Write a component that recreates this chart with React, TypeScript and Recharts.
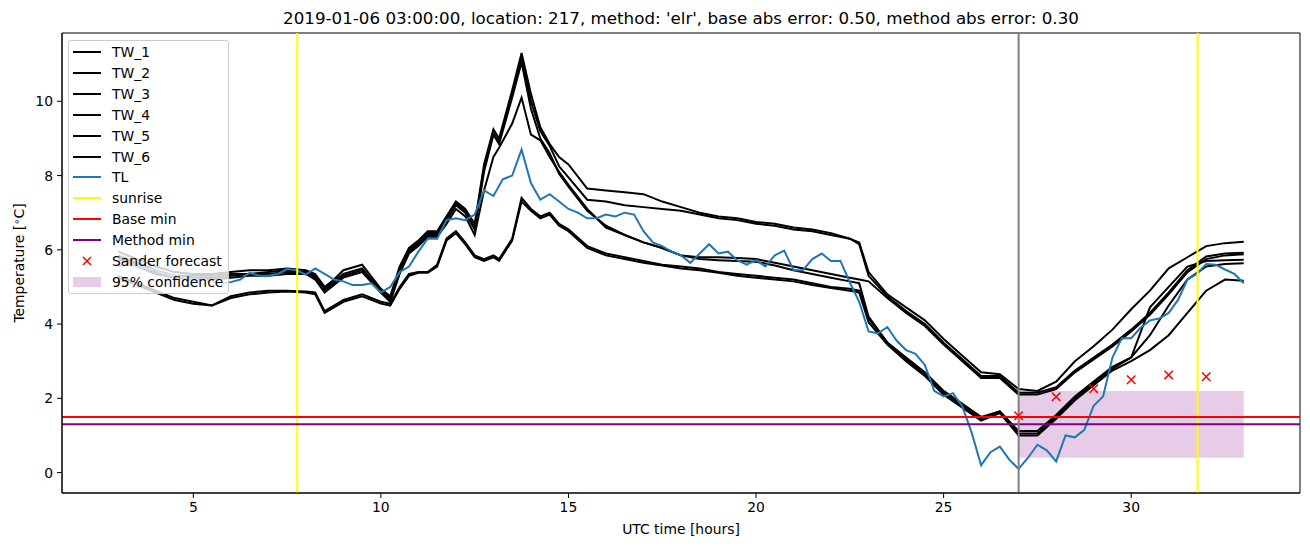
import React from 'react';
import { ComposedChart, Line, Scatter, XAxis, YAxis, ReferenceLine, ReferenceArea } from 'recharts';

const FONT = "'DejaVu Sans', sans-serif";
const LW = 2;

const twHours = [3, 3.5, 4, 4.5, 5, 5.5, 6, 6.5, 7, 7.5,
  8, 8.25, 8.5, 8.75, 9, 9.5, 10, 10.25, 10.5, 10.75,
  11, 11.25, 11.5, 11.75, 12, 12.25, 12.5, 12.75, 13, 13.15,
  13.5, 13.75, 14, 14.25, 14.5, 14.75, 15, 15.5, 16, 16.5,
  17, 17.5, 18, 18.5, 19, 19.5, 20, 20.5, 21, 21.5,
  22, 22.5, 22.75, 23, 23.5, 24, 24.5, 25, 25.5, 26,
  26.5, 27, 27.5, 28, 28.5, 29, 29.5, 30, 30.5, 31,
  31.5, 32, 32.5, 33];

const tw1 = [5.95, 5.75, 5.55, 5.4, 5.35, 5.35, 5.4, 5.45, 5.45, 5.5,
  5.45, 5.35, 5.0, 5.2, 5.45, 5.6, 4.95, 4.75, 5.55, 6.05,
  6.25, 6.5, 6.5, 6.9, 7.3, 7.1, 6.7, 8.3, 9.25, 9.0,
  10.3, 11.3, 10.2, 9.3, 8.85, 8.5, 8.3, 7.65, 7.6, 7.55,
  7.5, 7.3, 7.15, 7.0, 6.9, 6.85, 6.75, 6.7, 6.6, 6.55,
  6.45, 6.3, 6.2, 5.4, 4.8, 4.45, 4.1, 3.6, 3.15, 2.7,
  2.65, 2.25, 2.2, 2.45, 3.0, 3.4, 3.85, 4.4, 4.9, 5.5,
  5.8, 6.1, 6.18, 6.22];

const tw2 = [5.85, 5.65, 5.45, 5.3, 5.3, 5.3, 5.35, 5.35, 5.4, 5.45,
  5.4, 5.3, 4.95, 5.15, 5.35, 5.5, 4.9, 4.7, 5.5, 6.0,
  6.2, 6.45, 6.45, 6.85, 7.25, 7.05, 6.6, 8.2, 9.15, 8.9,
  10.2, 11.2, 10.0, 9.2, 8.8, 8.25, 7.95, 7.35, 7.3, 7.2,
  7.15, 7.1, 7.05, 6.95, 6.85, 6.8, 6.7, 6.65, 6.55, 6.5,
  6.4, 6.3, 6.15, 5.3, 4.75, 4.35, 4.0, 3.5, 3.05, 2.6,
  2.6, 2.15, 2.15, 2.3, 2.75, 3.1, 3.45, 3.85, 4.3, 4.85,
  5.45, 5.82, 5.9, 5.92];

const tw3 = [5.8, 5.6, 5.4, 5.3, 5.25, 5.25, 5.3, 5.35, 5.35, 5.4,
  5.4, 5.25, 4.9, 5.1, 5.3, 5.45, 4.85, 4.65, 5.45, 5.95,
  6.15, 6.4, 6.4, 6.8, 7.2, 7.0, 6.55, 8.1, 9.1, 8.85,
  10.1, 11.05, 9.8, 9.0, 8.6, 8.05, 7.7, 7.05, 6.65, 6.4,
  6.2, 6.05, 5.85, 5.8, 5.8, 5.78, 5.75, 5.65, 5.55, 5.45,
  5.35, 5.25, 5.2, 5.15, 4.7, 4.3, 3.95, 3.45, 3.0, 2.55,
  2.55, 2.1, 2.1, 2.25, 2.7, 3.05, 3.4, 3.8, 4.25, 4.8,
  5.4, 5.75, 5.85, 5.88];

const tw4 = [5.75, 5.55, 5.35, 5.25, 5.2, 5.2, 5.25, 5.3, 5.3, 5.35,
  5.35, 5.2, 4.85, 5.05, 5.25, 5.4, 4.85, 4.6, 5.35, 5.9,
  6.1, 6.35, 6.35, 6.7, 7.1, 6.9, 6.4, 7.6, 8.5, 8.75,
  9.4, 10.1, 9.1, 8.95, 8.5, 8.1, 7.75, 7.1, 6.6, 6.4,
  6.2, 6.05, 5.85, 5.75, 5.72, 5.7, 5.68, 5.58, 5.45, 5.35,
  5.25, 5.15, 5.1, 4.2, 3.5, 3.1, 2.7, 2.2, 1.85, 1.5,
  1.65, 1.12, 1.12, 1.55, 2.05, 2.45, 2.85, 3.1, 4.45, 5.0,
  5.55, 5.7, 5.72, 5.73];

const tw5 = [5.3, 5.1, 4.9, 4.7, 4.6, 4.5, 4.75, 4.85, 4.9, 4.9,
  4.88, 4.85, 4.35, 4.5, 4.65, 4.8, 4.6, 4.55, 5.0, 5.35,
  5.4, 5.4, 5.6, 6.3, 6.5, 6.2, 5.85, 5.75, 5.85, 5.75,
  6.3, 7.4, 7.1, 6.9, 7.0, 6.7, 6.55, 6.1, 5.9, 5.8,
  5.7, 5.6, 5.55, 5.5, 5.4, 5.35, 5.3, 5.25, 5.2, 5.1,
  5.0, 4.95, 4.9, 4.15, 3.5, 3.05, 2.65, 2.15, 1.8, 1.45,
  1.65, 1.05, 1.05, 1.5, 2.0, 2.4, 2.8, 3.1, 3.7, 4.5,
  5.2, 5.55, 5.62, 5.64];

const tw6 = [5.25, 5.05, 4.85, 4.65, 4.55, 4.5, 4.7, 4.8, 4.85, 4.88,
  4.85, 4.8, 4.3, 4.45, 4.6, 4.75, 4.55, 4.5, 4.95, 5.3,
  5.38, 5.38, 5.55, 6.25, 6.45, 6.15, 5.8, 5.7, 5.8, 5.7,
  6.25, 7.3, 7.05, 6.85, 6.95, 6.65, 6.5, 6.05, 5.85, 5.75,
  5.65, 5.58, 5.5, 5.45, 5.38, 5.3, 5.25, 5.2, 5.15, 5.05,
  4.97, 4.9, 4.85, 4.05, 3.45, 3.0, 2.6, 2.1, 1.75, 1.4,
  1.6, 1.0, 1.0, 1.45, 1.95, 2.35, 2.75, 3.0, 3.3, 3.7,
  4.3, 4.9, 5.2, 5.17];

const tlHours = [3, 3.25, 3.5, 3.75, 4, 4.25, 4.5, 4.75,
  5, 5.25, 5.5, 5.75, 6, 6.25, 6.5, 6.75,
  7, 7.25, 7.5, 7.75, 8, 8.25, 8.5, 8.75,
  9, 9.25, 9.5, 9.75, 10, 10.25, 10.5, 10.75,
  11, 11.25, 11.5, 11.75, 12, 12.25, 12.5, 12.75,
  13, 13.25, 13.5, 13.75, 14, 14.25, 14.5, 14.75,
  15, 15.25, 15.5, 15.75, 16, 16.25, 16.5, 16.75,
  17, 17.25, 17.5, 17.75, 18, 18.25, 18.5, 18.75,
  19, 19.25, 19.5, 19.75, 20, 20.25, 20.5, 20.75,
  21, 21.25, 21.5, 21.75, 22, 22.25, 22.5, 22.75,
  23, 23.25, 23.5, 23.75, 24, 24.25, 24.5, 24.75,
  25, 25.25, 25.5, 25.75, 26, 26.25, 26.5, 26.75,
  27, 27.25, 27.5, 27.75, 28, 28.25, 28.5, 28.75,
  29, 29.25, 29.5, 29.75, 30, 30.25, 30.5, 30.75,
  31, 31.25, 31.5, 31.75, 32, 32.25, 32.5, 32.75,
  33];

const tl = [5.55, 5.6, 5.55, 5.5, 5.45, 5.35, 5.3, 5.25,
  5.2, 5.2, 5.15, 5.1, 5.13, 5.2, 5.38, 5.3,
  5.3, 5.35, 5.48, 5.45, 5.33, 5.5, 5.35, 5.2,
  5.15, 5.05, 5.05, 5.1, 4.85, 5.0, 5.4, 5.55,
  5.95, 6.3, 6.3, 6.8, 6.85, 6.8, 6.95, 7.6,
  7.45, 7.9, 8.0, 8.7, 7.8, 7.35, 7.5, 7.3,
  7.1, 7.0, 6.85, 6.85, 6.95, 6.9, 7.0, 6.95,
  6.5, 6.2, 6.1, 5.95, 5.85, 5.65, 5.9, 6.15,
  5.9, 5.95, 5.72, 5.6, 5.72, 5.55, 5.85, 5.98,
  5.45, 5.45, 5.75, 5.9, 5.7, 5.7, 5.12, 4.6,
  3.8, 3.75, 3.92, 3.55, 3.3, 3.2, 2.9, 2.2,
  2.05, 2.14, 1.78, 1.07, 0.2, 0.55, 0.7, 0.35,
  0.1, 0.4, 0.75, 0.6, 0.3, 1.0, 0.95, 1.15,
  1.8, 2.05, 3.1, 3.62, 3.62, 3.9, 4.1, 4.15,
  4.3, 4.65, 5.2, 5.35, 5.62, 5.6, 5.47, 5.35,
  5.1];

const sanderHours = [27, 28, 29, 30, 31, 32];
const sanderValues = [1.53, 2.04, 2.26, 2.5, 2.63, 2.58];

const sunriseHours = [7.77, 31.77];
const forecastHour = 27;
const baseMin = 1.5;
const methodMin = 1.3;
const confStart = 27;
const confEnd = 33;
const confLow = 0.4;
const confHigh = 2.2;

const xDomain = [1.5, 34.5];
const yDomain = [-0.55, 11.84];
const xTicks = [5, 10, 15, 20, 25, 30];
const yTicks = [0, 2, 4, 6, 8, 10];

const twKeys = ['TW_1', 'TW_2', 'TW_3', 'TW_4', 'TW_5', 'TW_6'];
const twSeries = [tw1, tw2, tw3, tw4, tw5, tw6];

const TITLE = "2019-01-06 03:00:00, location: 217, method: 'elr', base abs error: 0.50, method abs error: 0.30";

const XMark = (props: any) => {
  const { cx, cy } = props;
  if (cx == null || cy == null) return <g />;
  const r = 4.2;
  return (
    <path
      d={`M${cx - r},${cy - r}L${cx + r},${cy + r}M${cx - r},${cy + r}L${cx + r},${cy - r}`}
      stroke="#ff0000"
      strokeWidth={1.5}
      fill="none"
    />
  );
};

type LegendItem = { label: string; kind: 'line' | 'x' | 'patch'; color: string };
const legendItems: LegendItem[] = [
  ...twKeys.map((k) => ({ label: k, kind: 'line' as const, color: '#000000' })),
  { label: 'TL', kind: 'line', color: '#1f77b4' },
  { label: 'sunrise', kind: 'line', color: '#ffff00' },
  { label: 'Base min', kind: 'line', color: '#ff0000' },
  { label: 'Method min', kind: 'line', color: '#800080' },
  { label: 'Sander forecast', kind: 'x', color: '#ff0000' },
  { label: '95% confidence', kind: 'patch', color: 'rgba(128,0,128,0.2)' },
];

export default function App() {
  const twRows = twHours.map((x, i) => {
    const row: any = { x };
    twKeys.forEach((k, j) => {
      row[k] = twSeries[j][i];
    });
    return row;
  });
  const tlRows = tlHours.map((x, i) => ({ x, TL: tl[i] }));
  const sanderRows = sanderHours.map((x, i) => ({ x, y: sanderValues[i] }));

  const tickStyle = { fill: '#000', fontSize: 13.9, fontFamily: FONT };

  return (
    <div style={{ position: 'absolute', left: 0, top: 0, width: 1310, height: 547, background: '#fff', fontFamily: FONT, overflow: 'hidden' }}>
      <ComposedChart width={1310} height={547} margin={{ top: 33, right: 10, bottom: 0, left: 0 }}>
        <XAxis
          dataKey="x"
          type="number"
          domain={xDomain}
          ticks={xTicks}
          allowDataOverflow
          height={54}
          tickSize={5}
          tickMargin={4}
          axisLine={{ stroke: '#000', strokeWidth: 1 }}
          tickLine={{ stroke: '#000' }}
          tick={tickStyle}
        />
        <YAxis
          type="number"
          domain={yDomain}
          ticks={yTicks}
          allowDataOverflow
          width={62}
          tickSize={5}
          tickMargin={4}
          axisLine={{ stroke: '#000', strokeWidth: 1 }}
          tickLine={{ stroke: '#000' }}
          tick={tickStyle}
        />
        <ReferenceArea
          x1={confStart}
          x2={confEnd}
          y1={confLow}
          y2={confHigh}
          fill="#800080"
          fillOpacity={0.2}
          stroke="none"
        />
        {twKeys.map((k) => (
          <Line
            key={k}
            data={twRows}
            dataKey={k}
            type="linear"
            stroke="#000000"
            strokeWidth={LW}
            dot={false}
            activeDot={false}
            isAnimationActive={false}
          />
        ))}
        <Line
          data={tlRows}
          dataKey="TL"
          type="linear"
          stroke="#1f77b4"
          strokeWidth={LW}
          dot={false}
          activeDot={false}
          isAnimationActive={false}
        />
        {sunriseHours.map((h) => (
          <ReferenceLine key={h} x={h} stroke="#ffff00" strokeWidth={LW} />
        ))}
        <ReferenceLine y={baseMin} stroke="#ff0000" strokeWidth={LW} />
        <ReferenceLine y={methodMin} stroke="#800080" strokeWidth={LW} />
        <ReferenceLine x={forecastHour} stroke="#808080" strokeWidth={LW} />
        <Scatter data={sanderRows} dataKey="y" shape={XMark} isAnimationActive={false} />
        <ReferenceArea
          x1={xDomain[0]}
          x2={xDomain[1]}
          y1={yDomain[0]}
          y2={yDomain[1]}
          fill="none"
          stroke="#000"
          strokeWidth={1}
        />
      </ComposedChart>

      <div style={{ position: 'absolute', left: 62, width: 1238, top: 8, lineHeight: '20px', fontSize: 16.7, textAlign: 'center', color: '#000', whiteSpace: 'nowrap' }}>
        {TITLE}
      </div>
      <div style={{ position: 'absolute', left: 62, width: 1238, top: 519, lineHeight: '20px', fontSize: 13.9, textAlign: 'center', color: '#000' }}>
        UTC time [hours]
      </div>
      <div style={{ position: 'absolute', left: 18, top: 263, transform: 'translate(-50%, -50%) rotate(-90deg)', fontSize: 13.9, lineHeight: '18px', whiteSpace: 'nowrap', color: '#000' }}>
        Temperature [<span style={{ fontSize: 10, verticalAlign: '0.45em' }}>∘</span>C]
      </div>

      <div style={{ position: 'absolute', left: 68, top: 40, width: 161, height: 254, boxSizing: 'border-box', border: '1px solid #cccccc', borderRadius: 3, background: 'rgba(255,255,255,0.8)' }}>
        {legendItems.map((it, i) => {
          const cy = 11 + i * 20.9;
          return (
            <div key={it.label} style={{ position: 'absolute', left: 0, top: cy - 10, height: 20, width: 159 }}>
              <svg width={40} height={20} style={{ position: 'absolute', left: 0, top: 0 }}>
                {it.kind === 'line' && <line x1={4} x2={32} y1={10} y2={10} stroke={it.color} strokeWidth={LW} />}
                {it.kind === 'x' && (
                  <path d="M14,6L22,14M14,14L22,6" stroke={it.color} strokeWidth={1.5} fill="none" />
                )}
                {it.kind === 'patch' && <rect x={4} y={5} width={28} height={10} fill={it.color} />}
              </svg>
              <div style={{ position: 'absolute', left: 43, top: 0, lineHeight: '20px', fontSize: 13.9, color: '#000', whiteSpace: 'nowrap' }}>
                {it.label}
              </div>
            </div>
          );
        })}
      </div>
    </div>
  );
}
